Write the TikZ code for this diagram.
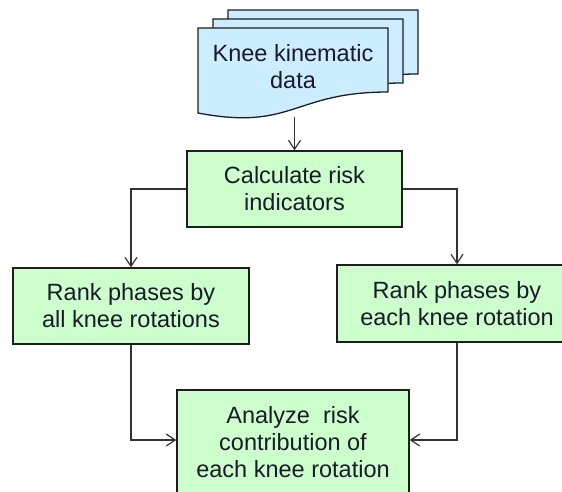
\documentclass[tikz,border=0pt]{standalone}
\usepackage{fontspec}
\setmainfont{Liberation Sans}
\usetikzlibrary{arrows.meta,calc}
\definecolor{boxgreen}{HTML}{CCFFCC}
\definecolor{docblue}{HTML}{CCECFF}
\definecolor{edge}{HTML}{1E1E1E}
\definecolor{wire}{HTML}{333333}
\definecolor{txt}{HTML}{1A1A2A}
\begin{document}
\begin{tikzpicture}[x=1pt,y=-1pt,
  boxfont/.style={text=txt,font=\fontsize{23.5}{27}\selectfont},
  procbox/.style={draw=edge,line width=1.4pt,fill=boxgreen,rectangle,inner sep=0pt,
    align=center,boxfont},
  wirearrow/.style={draw=wire,line width=1.3pt,-{Straight Barb[length=9pt,width=12pt,line width=1.2pt]}},
  sheet/.style={draw=edge,line width=1.3pt,fill=docblue}]
\clip (0,0) rectangle (562,491);
\fill[white] (0,0) rectangle (562,491);
% document stack
\foreach \dx/\dy in {30/-18,15/-9,0/0}{
  \draw[sheet,shift={(198+\dx,28+\dy)}] (0,0) -- (190,0) -- (190,64)
    .. controls (95,64) and (95,103) .. (0,85) -- cycle;
}
\node[align=center,boxfont] (doc) at (293,67) {Knee kinematic\\data};
\coordinate (docbot) at (294.5,117);
% boxes
\node[procbox,minimum width=215pt,minimum height=76pt] (calc) at (294.5,189) {Calculate risk\\indicators};
\node[procbox,minimum width=236pt,minimum height=76pt] (left) at (131,306) {Rank phases by\\all knee rotations};
\node[procbox,minimum width=240pt,minimum height=77pt] (right) at (457,303.5) {Rank phases by\\each knee rotation};
\node[procbox,minimum width=232pt,minimum height=104pt] (bot) at (293,442) {Analyze\ \ risk\\contribution of\\each knee rotation};
% connectors
\draw[wirearrow] (docbot) -- (calc.north);
\draw[wirearrow] (calc.west) -| (left.north);
\draw[wirearrow] (calc.east) -| (right.north);
\draw[wirearrow] (left.south) |- ($(bot.west)+(0,-2)$);
\draw[wirearrow] (right.south) |- ($(bot.east)+(0,-2)$);
\end{tikzpicture}
\end{document}
